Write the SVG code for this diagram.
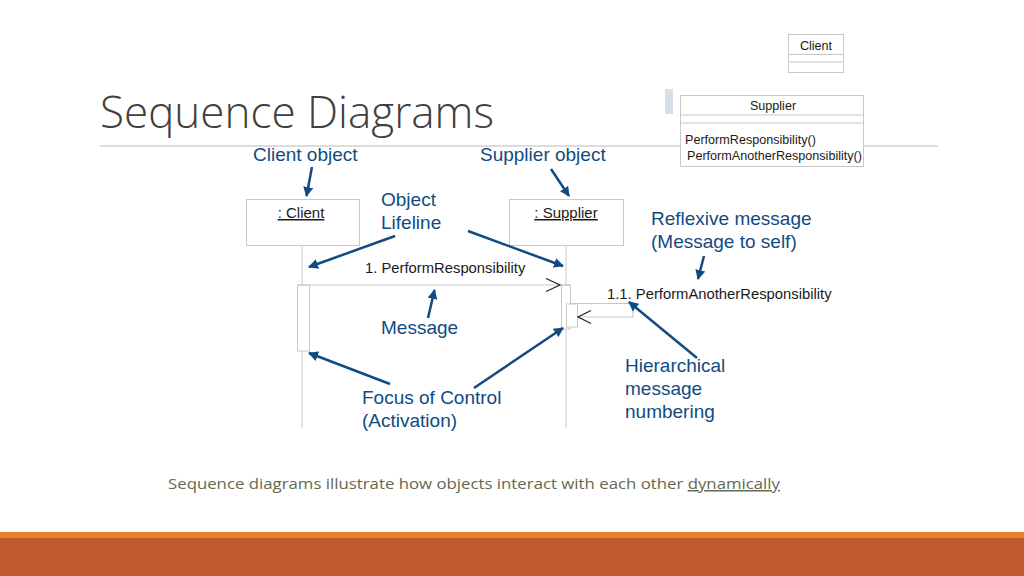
<svg xmlns="http://www.w3.org/2000/svg" width="1024" height="576" viewBox="0 0 1024 576">
<defs>
<marker id="ah" viewBox="0 0 10 10" refX="9" refY="5" markerWidth="4" markerHeight="4" orient="auto" markerUnits="strokeWidth">
<path d="M0,0 L10,5 L0,10 z" fill="#114b82"/>
</marker>
</defs>
<style>
.box{fill:#fff;stroke:#c8c8c8;stroke-width:1}
.lane{stroke:#d4d4d4;stroke-width:1.2;fill:none}
.msg{stroke:#c8c8c8;stroke-width:1.2;fill:none}
.head{stroke:#222;stroke-width:1.2;fill:none}
.sm{font-family:"Liberation Sans",Arial,sans-serif;font-size:14.8px;fill:#1a1a1a}
.obj{font-family:"Liberation Sans",Arial,sans-serif;font-size:15px;fill:#1a1a1a}
.xs{font-family:"Liberation Sans",Arial,sans-serif;font-size:12.6px;fill:#1a1a1a}
.lbl{font-family:"Liberation Sans",Arial,sans-serif;font-size:19px;fill:#114b82}
.ann{stroke:#114b82;stroke-width:2.5;fill:none;marker-end:url(#ah)}
</style>
<rect width="1024" height="576" fill="#fff"/>
<text x="100" y="128" font-family="'Open Sans',sans-serif" font-weight="300" font-size="44" fill="#404040" textLength="394" lengthAdjust="spacingAndGlyphs">Sequence Diagrams</text>
<line x1="100" y1="146" x2="938" y2="146" stroke="#d0d0d0" stroke-width="1.5"/>
<rect x="665" y="89" width="8" height="25" fill="#d6dfeb"/>
<g id="client-class">
<rect class="box" x="788.5" y="34.5" width="55" height="38"/>
<line class="msg" x1="788.5" y1="54.5" x2="843.5" y2="54.5"/>
<line class="msg" x1="788.5" y1="62" x2="843.5" y2="62"/>
<text class="xs" x="816" y="50" text-anchor="middle">Client</text>
</g>
<g id="supplier-class">
<rect class="box" x="680.5" y="95.5" width="183" height="71"/>
<line class="msg" x1="680.5" y1="115" x2="863.5" y2="115"/>
<line class="msg" x1="680.5" y1="123" x2="863.5" y2="123"/>
<text class="xs" x="773" y="110" text-anchor="middle">Supplier</text>
<text class="xs" x="685" y="144">PerformResponsibility()</text>
<text class="xs" x="687" y="160">PerformAnotherResponsibility()</text>
</g>
<g id="client-obj">
<rect class="box" x="246.5" y="199.5" width="113" height="46"/>
<text class="obj" x="301" y="218" text-anchor="middle" text-decoration="underline">: Client</text>
</g>
<g id="supplier-obj">
<rect class="box" x="509.5" y="199.5" width="114" height="46"/>
<text class="obj" x="566" y="218" text-anchor="middle" text-decoration="underline">: Supplier</text>
</g>
<g id="lifelines">
<line class="lane" x1="302" y1="245" x2="302" y2="428"/>
<line class="lane" x1="566" y1="245" x2="566" y2="428"/>
</g>
<g id="activations">
<rect class="box" x="297.5" y="285" width="12" height="66"/>
<rect class="box" x="561.5" y="285" width="9" height="44"/>
<rect class="box" x="566.5" y="304" width="11" height="23"/>
</g>
<g id="connectors">
<line class="msg" x1="297" y1="285" x2="570" y2="285"/>
<polyline class="head" points="546,278.5 560,285 546,291.5"/>
<polyline class="msg" points="570,303.5 633,303.5 633,317 577,317"/>
<polyline class="head" points="591,310.5 578,317 591,323.5"/>
<line class="ann" x1="312" y1="167" x2="306.5" y2="196"/>
<line class="ann" x1="551" y1="169" x2="569" y2="196"/>
<line class="ann" x1="395" y1="236" x2="309" y2="267"/>
<line class="ann" x1="468" y1="231" x2="563" y2="266"/>
<line class="ann" x1="704" y1="256" x2="698" y2="279"/>
<line class="ann" x1="697" y1="358" x2="629" y2="302"/>
<line class="ann" x1="428" y1="318" x2="434.5" y2="290"/>
<line class="ann" x1="390" y1="384" x2="309" y2="353"/>
<line class="ann" x1="474" y1="388" x2="563" y2="328"/>
</g>
<g id="labels">
<text class="lbl" x="253" y="161">Client object</text>
<text class="lbl" x="480" y="161">Supplier object</text>
<text class="lbl" x="381" y="206">Object</text>
<text class="lbl" x="381" y="229">Lifeline</text>
<text class="lbl" x="651" y="225">Reflexive message</text>
<text class="lbl" x="651" y="248">(Message to self)</text>
<text class="lbl" x="381" y="334">Message</text>
<text class="lbl" x="625" y="372">Hierarchical</text>
<text class="lbl" x="625" y="395">message</text>
<text class="lbl" x="625" y="418">numbering</text>
<text class="lbl" x="362" y="404">Focus of Control</text>
<text class="lbl" x="362" y="427">(Activation)</text>
<text class="sm" x="365" y="273">1. PerformResponsibility</text>
<text class="sm" x="607" y="299">1.1. PerformAnotherResponsibility</text>
</g>
<text x="168" y="489" font-family="'Open Sans',sans-serif" font-size="15" fill="#65684f" textLength="612" lengthAdjust="spacingAndGlyphs">Sequence diagrams illustrate how objects interact with each other <tspan text-decoration="underline">dynamically</tspan></text>
<rect x="0" y="532" width="1024" height="6" fill="#e8822a"/>
<rect x="0" y="538" width="1024" height="38" fill="#be5a2c"/>
</svg>
